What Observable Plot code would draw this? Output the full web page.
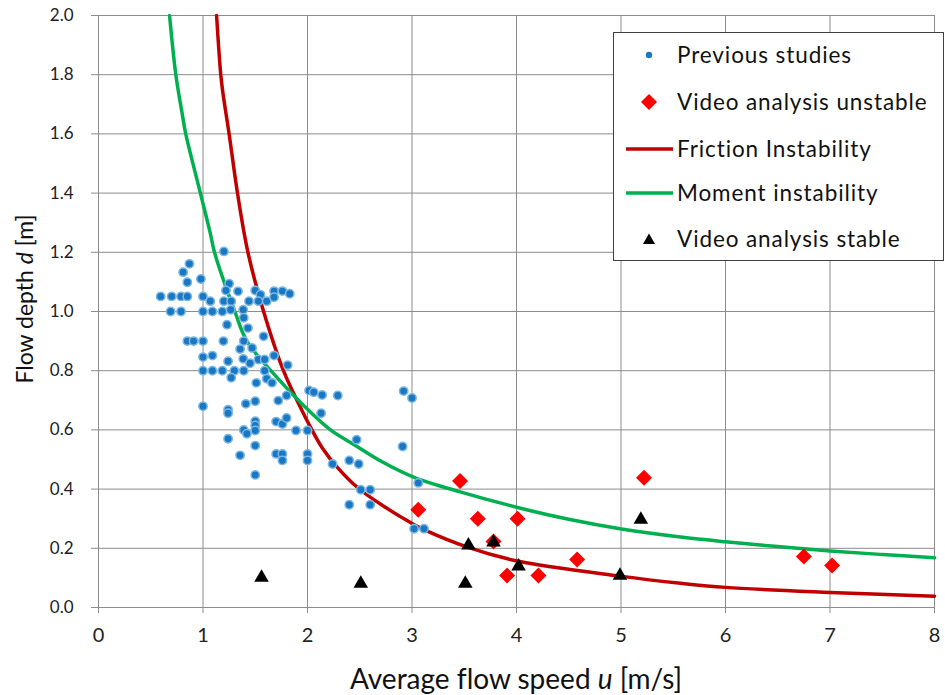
<!DOCTYPE html>
<html>
<head>
<meta charset="utf-8">
<script src="https://cdn.jsdelivr.net/npm/d3@7"></script>
<script src="https://cdn.jsdelivr.net/npm/@observablehq/plot@0.6"></script>
<style>
  html, body { margin: 0; padding: 0; background: #fff; }
  #wrap { position: relative; width: 945px; height: 695px; font-family: Lato, "Open Sans", sans-serif; overflow: hidden;
          font-variant-ligatures: none; }
  #legend { position: absolute; left: 613px; top: 32px; width: 331px; height: 229px; box-sizing: border-box;
            border: 1px solid #404040; background: #fff; }
  .row { position: absolute; left: 0; height: 30px; width: 100%; }
  .row svg { position: absolute; left: 0; top: 0; }
  .row span { position: absolute; left: 63px; top: 0; line-height: 30px; font-size: 22.5px; letter-spacing: 0.9px; color: #111; white-space: nowrap;
              font-variant-ligatures: none; }
  svg text { font-variant-ligatures: none; }
</style>
</head>
<body>
<div id="wrap">
  <div id="chart"></div>
  <div id="legend"></div>
</div>
<script>
// ---- data ----
// Previous studies (u [m/s], d [m])
const prevU = [1.20,0.87,0.81,0.85,0.98,0.595,0.70,0.79,0.85,1.00,1.07,1.25,1.22,1.335,1.20,1.27,
  0.69,0.79,1.00,1.09,1.185,1.265,1.385,1.23,1.39,1.43,1.50,1.55,1.44,1.53,1.61,1.68,1.76,1.83,1.68,
  0.85,0.91,1.00,1.195,1.39,1.58,1.355,1.47,1.00,1.09,1.24,1.68,1.385,1.53,1.59,1.81,1.45,
  1.00,1.09,1.185,1.30,1.39,1.59,
  1.27,1.51,1.61,1.66,1.00,1.24,1.24,1.41,1.50,1.72,1.80,2.015,2.06,2.14,2.29,2.13,1.50,1.50,1.70,1.76,1.80,
  1.39,1.42,1.50,1.24,1.50,1.355,1.70,1.76,1.76,1.89,2.00,2.00,2.00,1.50,2.24,
  2.92,3.00,2.47,2.91,2.40,2.49,2.51,2.60,2.40,2.60,3.06,3.02,3.115];
const prevD = [1.203,1.161,1.133,1.099,1.110,1.051,1.051,1.051,1.051,1.051,1.035,1.094,1.071,1.068,1.035,1.035,
  1.0,1.0,1.0,1.0,1.0,1.006,1.006,0.955,0.979,0.944,1.071,1.057,1.035,1.035,1.035,1.069,1.069,1.06,1.048,
  0.90,0.90,0.90,0.90,0.90,0.916,0.873,0.877,0.846,0.851,0.832,0.851,0.840,0.838,0.838,0.819,0.825,
  0.80,0.80,0.80,0.80,0.80,0.80,
  0.776,0.759,0.773,0.759,0.680,0.668,0.656,0.688,0.697,0.699,0.716,0.733,0.727,0.718,0.716,0.656,0.629,0.615,0.628,0.620,0.640,
  0.600,0.587,0.598,0.570,0.547,0.514,0.519,0.519,0.497,0.598,0.598,0.519,0.497,0.448,0.485,
  0.731,0.708,0.567,0.544,0.497,0.485,0.398,0.398,0.347,0.347,0.421,0.266,0.266];

// Video analysis unstable
const unstableU = [3.06,3.46,3.63,3.78,4.01,3.91,4.21,4.58,5.22,6.75,7.02];
const unstableD = [0.330,0.427,0.300,0.223,0.300,0.108,0.108,0.162,0.438,0.172,0.142];

// Video analysis stable
const stableU = [1.56,2.51,3.51,3.54,3.78,4.02,4.99,5.19];
const stableD = [0.101,0.081,0.081,0.210,0.220,0.139,0.108,0.297];

// Friction instability curve
const frictionU = [1.13,1.17,1.19,1.25,1.33,1.43,1.58,1.77,1.92,2.02,2.14,2.29,2.49,2.73,2.99,3.115,3.53,4.02,4.99,5.57,6.0,7.0,8.0];
const frictionD = [2.0,1.8,1.74,1.6,1.4,1.2,1.0,0.8,0.685,0.615,0.54,0.472,0.402,0.342,0.286,0.263,0.204,0.156,0.106,0.082,0.068,0.051,0.038];

// Moment instability curve
const momentU = [0.68,0.74,0.80,0.835,0.975,1.07,1.11,1.305,1.42,1.70,1.97,2.22,2.47,2.70,3.02,3.47,4.01,4.50,4.99,5.57,6.0,6.5,7.0,7.5,8.0];
const momentD = [2.0,1.8,1.67,1.6,1.4,1.264,1.2,1.0,0.9,0.78,0.68,0.6,0.545,0.495,0.44,0.39,0.338,0.298,0.266,0.238,0.222,0.206,0.191,0.179,0.168];

const xTicks = [0,1,2,3,4,5,6,7,8];
const yTicks = [0,0.2,0.4,0.6,0.8,1.0,1.2,1.4,1.6,1.8,2.0];

const seriesNames = ["Previous studies","Video analysis unstable","Friction Instability","Moment instability","Video analysis stable"];
const colors = {prev: "#1a78c2", prevEdge: "#7cb8e6", unstable: "#ff0000", friction: "#c00000", moment: "#00b050", stable: "#000000"};

// ---- build tables ----
const zip = (U, D) => U.map((u, i) => ({u, d: D[i]}));
const prev = zip(prevU, prevD);
const unstable = zip(unstableU, unstableD);
const stable = zip(stableU, stableD);
const friction = zip(frictionU, frictionD);
const moment = zip(momentU, momentD);

const W = 945, H = 695, ML = 98, MR = 11, MT = 15, MB = 88;
const gridColor = "#8c8c8c";

const plot = Plot.plot({
  width: W, height: H,
  marginLeft: ML, marginRight: MR, marginTop: MT, marginBottom: MB,
  style: {fontFamily: "Lato, 'Open Sans', sans-serif", background: "transparent", overflow: "visible"},
  x: {domain: [0, 8], label: null},
  y: {domain: [0, 2], label: null},
  marks: [
    Plot.gridX(xTicks, {stroke: gridColor, strokeOpacity: 1, strokeWidth: 1}),
    Plot.gridY(yTicks, {stroke: gridColor, strokeOpacity: 1, strokeWidth: 1}),
    Plot.axisX(xTicks, {tickSize: 6, tickPadding: 14, fontSize: 20, stroke: gridColor, fill: "#222", label: null, tickFormat: d3.format("d")}),
    Plot.axisY(yTicks, {tickSize: 7, tickPadding: 18, fontSize: 17, stroke: gridColor, fill: "#222", label: null, tickFormat: d3.format(".1f")}),
    Plot.line(friction, {x: "u", y: "d", stroke: colors.friction, strokeWidth: 3.5, curve: "catmull-rom"}),
    Plot.line(moment, {x: "u", y: "d", stroke: colors.moment, strokeWidth: 3.5, curve: "catmull-rom"}),
    Plot.dot(prev, {x: "u", y: "d", r: 4.2, fill: colors.prev, stroke: colors.prevEdge, strokeWidth: 1.5}),
    Plot.dot(unstable, {x: "u", y: "d", symbol: "diamond2", r: 7.2, fill: colors.unstable, stroke: "none"}),
    Plot.dot(stable, {x: "u", y: "d", symbol: "triangle", r: 5.4, fill: colors.stable, stroke: "none"})
  ]
});
document.getElementById("chart").appendChild(plot);

// axis titles with italic variable
const svg = d3.select(plot);
const xt = svg.append("text")
  .attr("x", (ML + (W - MR)) / 2).attr("y", 689)
  .attr("text-anchor", "middle").attr("font-size", 28).attr("fill", "#111")
  .attr("font-family", "Lato, 'Open Sans', sans-serif");
xt.append("tspan").text("Average flow speed ");
xt.append("tspan").attr("font-style", "italic").text("u");
xt.append("tspan").text(" [m/s]");

const yt = svg.append("text")
  .attr("transform", "translate(33,299) rotate(-90)")
  .attr("text-anchor", "middle").attr("font-size", 23).attr("fill", "#111")
  .attr("font-family", "Lato, 'Open Sans', sans-serif");
yt.append("tspan").text("Flow depth ");
yt.append("tspan").attr("font-style", "italic").text("d");
yt.append("tspan").text(" [m]");

// legend
const legend = d3.select("#legend");
const rowTops = [7, 54, 101, 145, 191];
const symbols = [
  g => g.append("circle").attr("cx", 35).attr("cy", 15).attr("r", 3.2).attr("fill", colors.prev),
  g => g.append("path").attr("d", "M35,7 L43,15 L35,23 L27,15 Z").attr("fill", colors.unstable),
  g => g.append("line").attr("x1", 12).attr("x2", 59).attr("y1", 15).attr("y2", 15).attr("stroke", colors.friction).attr("stroke-width", 3.5),
  g => g.append("line").attr("x1", 12).attr("x2", 59).attr("y1", 15).attr("y2", 15).attr("stroke", colors.moment).attr("stroke-width", 3.5),
  g => g.append("path").attr("d", "M35,9.5 L41,20 L29,20 Z").attr("fill", colors.stable)
];
seriesNames.forEach((name, i) => {
  const row = legend.append("div").attr("class", "row").style("top", rowTops[i] + "px");
  const s = row.append("svg").attr("width", 62).attr("height", 30);
  symbols[i](s);
  row.append("span").text(name);
});
</script>
</body>
</html>
